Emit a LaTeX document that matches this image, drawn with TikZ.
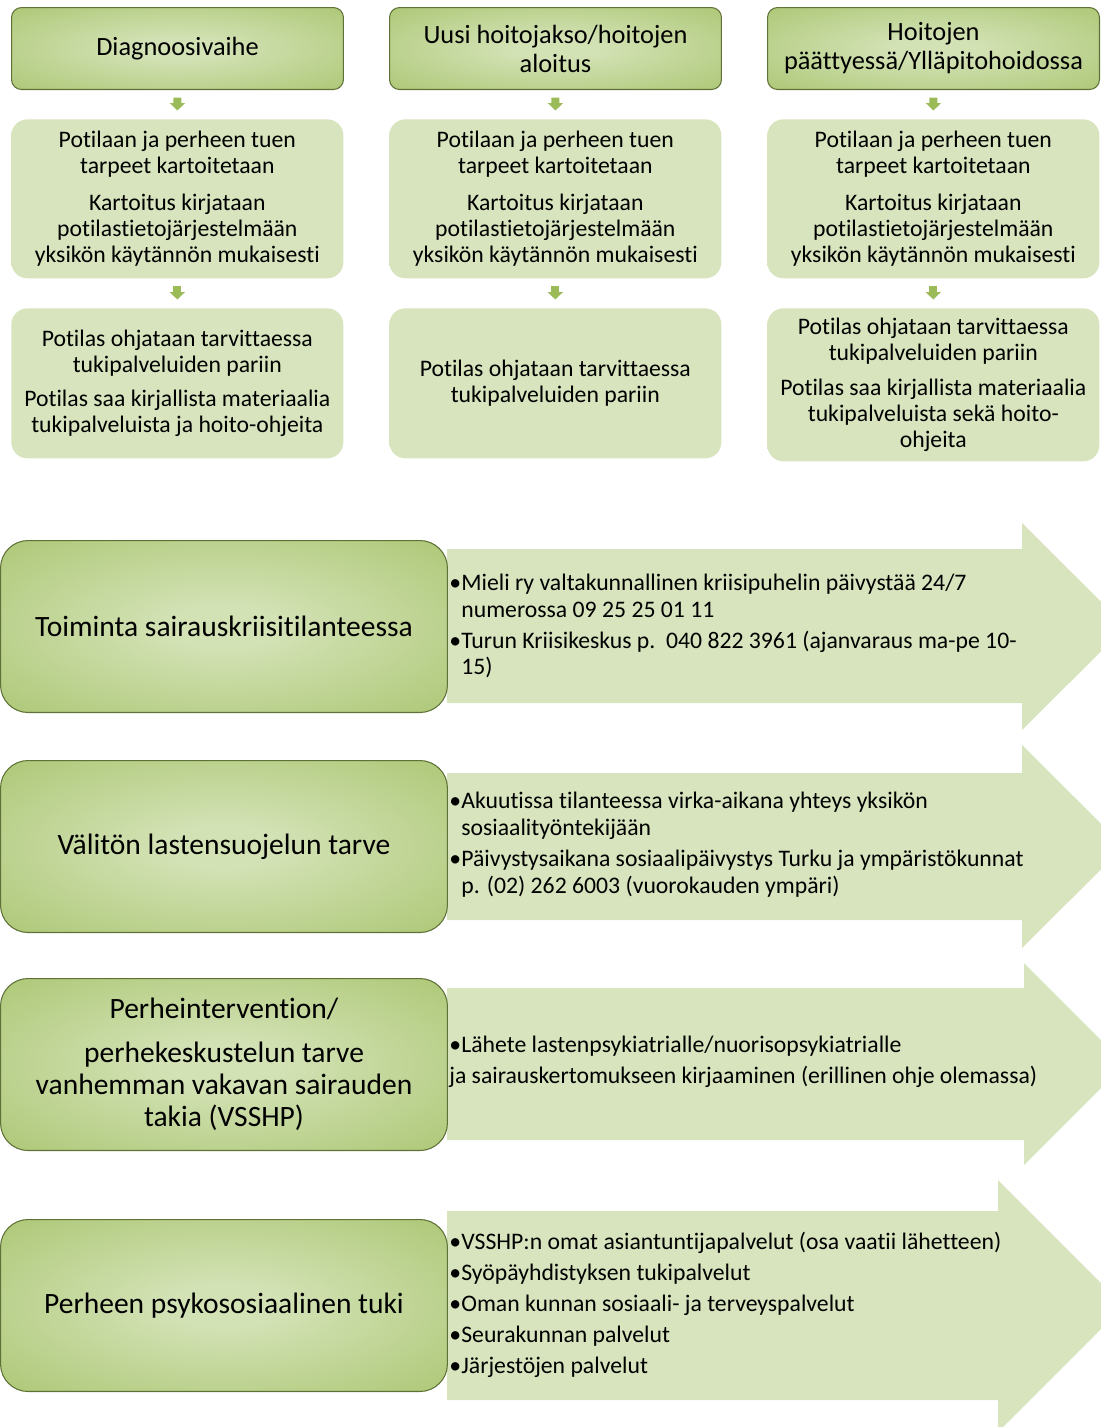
\documentclass[tikz,border=0pt]{standalone}
\usepackage{fontspec}
\setmainfont{Carlito}[Ligatures=NoCommon]
\usetikzlibrary{arrows.meta,positioning}

\definecolor{leafgreen}{HTML}{9BBB59}
\definecolor{leaflight}{HTML}{D3E2B5}
\definecolor{leafpale}{HTML}{D7E4BD}
\definecolor{leafrim}{HTML}{E4ECD4}
\definecolor{leafline}{HTML}{5F7136}

\pgfdeclareradialshading{greenglow}{\pgfpoint{0bp}{0bp}}{color(0bp)=(leaflight); color(6bp)=(leaflight); color(50bp)=(leafgreen); color(80bp)=(leafgreen)}
\pgfdeclareradialshading{paleglow}{\pgfpoint{0bp}{0bp}}{color(0bp)=(leafpale); color(42bp)=(leafpale); color(52bp)=(leafrim); color(80bp)=(leafrim)}

\newcommand{\svcdot}{\makebox[0.24cm][l]{•}}
\newcommand{\svcpad}{\hspace*{0.24cm}}

\tikzset{
  phasebox/.style={draw=leafline, line width=0.6pt, shading=greenglow, rounded corners=0.2cm,
    anchor=north west, minimum width=6.64cm, minimum height=1.64cm, align=center, inner sep=0pt,
    font=\fontsize{15}{16.5}\selectfont},
  taskbox/.style={shading=paleglow, rounded corners=0.32cm, anchor=north west,
    minimum width=6.64cm, align=center, inner sep=0pt, font=\fontsize{13.5}{14.8}\selectfont},
  situation/.style={draw=leafline, line width=0.6pt, shading=greenglow, rounded corners=0.55cm,
    anchor=north west, minimum width=8.94cm, minimum height=3.44cm, align=center, inner sep=0pt,
    font=\fontsize{16.8}{18.2}\selectfont},
  servicelist/.style={anchor=west, align=left, inner sep=0pt, font=\fontsize{13.5}{15.3}\selectfont},
  stepdown/.style={draw=leafgreen, line width=0.16cm, -{Triangle[width=0.3cm,length=0.15cm]},
    shorten <=0.15cm, shorten >=0.17cm},
  bigarrow/.style={fill=leafpale}
}

\begin{document}
\begin{tikzpicture}[x=0.02cm, y=-0.02cm]
\useasboundingbox (0,0) rectangle (1101,1427);
\clip (0,0) rectangle (1101,1427);

% phases
\node[phasebox] (head1) at (11,7) {Diagnoosivaihe};
\node[phasebox] (head2) at (389,7) {Uusi hoitojakso/hoitojen\\aloitus};
\node[phasebox] (head3) at (767,7) {Hoitojen\\päättyessä/Ylläpitohoidossa};

\node[taskbox, minimum height=3.18cm] (need1) at (11,119)
  {Potilaan ja perheen tuen\\tarpeet kartoitetaan\\[6pt]Kartoitus kirjataan\\potilastietojärjestelmään\\yksikön käytännön mukaisesti};
\node[taskbox, minimum height=3.18cm] (need2) at (389,119)
  {Potilaan ja perheen tuen\\tarpeet kartoitetaan\\[6pt]Kartoitus kirjataan\\potilastietojärjestelmään\\yksikön käytännön mukaisesti};
\node[taskbox, minimum height=3.18cm] (need3) at (767,119)
  {Potilaan ja perheen tuen\\tarpeet kartoitetaan\\[6pt]Kartoitus kirjataan\\potilastietojärjestelmään\\yksikön käytännön mukaisesti};

\node[taskbox, minimum height=3.0cm] (guide1) at (11,308)
  {Potilas ohjataan tarvittaessa\\tukipalveluiden pariin\\[5pt]Potilas saa kirjallista materiaalia\\tukipalveluista ja hoito-ohjeita};
\node[taskbox, minimum height=3.0cm] (guide2) at (389,308)
  {Potilas ohjataan tarvittaessa\\tukipalveluiden pariin};
\node[taskbox, minimum height=3.06cm] (guide3) at (767,308)
  {Potilas ohjataan tarvittaessa\\tukipalveluiden pariin\\[5pt]Potilas saa kirjallista materiaalia\\tukipalveluista sekä hoito-\\ohjeita};

\foreach \c in {1,2,3} {
  \draw[stepdown] (head\c) -- (need\c);
  \draw[stepdown] (need\c) -- (guide\c);
}

% services
\fill[bigarrow] (447,549) -- (1022,549) -- (1022,523) -- (1126,626.5) -- (1022,730) -- (1022,703) -- (447,703) -- cycle;
\fill[bigarrow] (447,773) -- (1022,773) -- (1022,745) -- (1124,846.5) -- (1022,948) -- (1022,920) -- (447,920) -- cycle;
\fill[bigarrow] (447,988) -- (1024,988) -- (1024,963) -- (1125,1064) -- (1024,1165) -- (1024,1140) -- (447,1140) -- cycle;
\fill[bigarrow] (447,1211) -- (998,1211) -- (998,1180) -- (1124,1306) -- (998,1432) -- (998,1400) -- (447,1400) -- cycle;

\node[situation] (crisis) at (0,540) {Toiminta sairauskriisitilanteessa};
\node[situation] (child) at (0,760) {Välitön lastensuojelun tarve};
\node[situation] (family) at (0,978)
  {Perheintervention/\\[7pt]perhekeskustelun tarve\\vanhemman vakavan sairauden\\takia (VSSHP)};
\node[situation] (support) at (0,1219) {Perheen psykososiaalinen tuki};

\node[servicelist] (crisislist) at (449,626)
  {\svcdot Mieli ry valtakunnallinen kriisipuhelin päivystää 24/7\\
   \svcpad numerossa 09 25 25 01 11\\[2.3pt]
   \svcdot Turun Kriisikeskus p.\ \ 040 822 3961 (ajanvaraus ma-pe 10-\\
   \svcpad 15)};
\node[servicelist] (childlist) at (449,845)
  {\svcdot Akuutissa tilanteessa virka-aikana yhteys yksikön\\
   \svcpad sosiaalityöntekijään\\[2.3pt]
   \svcdot Päivystysaikana sosiaalipäivystys Turku ja ympäristökunnat\\
   \svcpad p. (02) 262 6003 (vuorokauden ympäri)};
\node[servicelist] (familylist) at (449,1062)
  {\svcdot Lähete lastenpsykiatrialle/nuorisopsykiatrialle\\[2.3pt]
   ja sairauskertomukseen kirjaaminen (erillinen ohje olemassa)};
\node[servicelist] (supportlist) at (449,1305)
  {\svcdot VSSHP:n omat asiantuntijapalvelut (osa vaatii lähetteen)\\[2.3pt]
   \svcdot Syöpäyhdistyksen tukipalvelut\\[2.3pt]
   \svcdot Oman kunnan sosiaali- ja terveyspalvelut\\[2.3pt]
   \svcdot Seurakunnan palvelut\\[2.3pt]
   \svcdot Järjestöjen palvelut};
\end{tikzpicture}
\end{document}
